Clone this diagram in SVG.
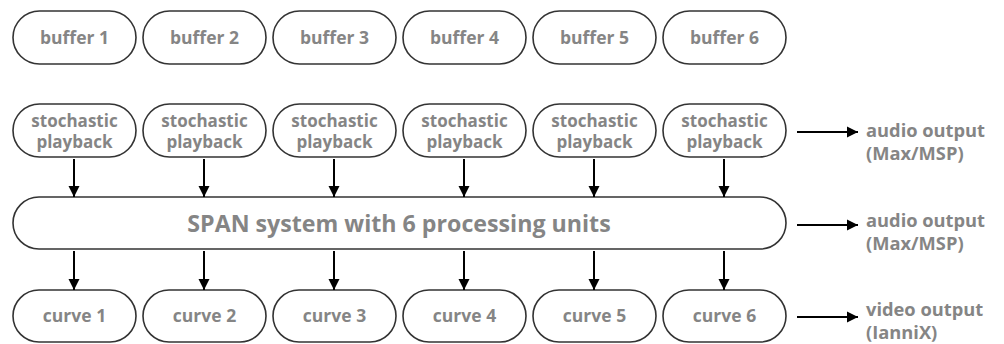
<svg xmlns="http://www.w3.org/2000/svg" width="1004" height="344" viewBox="0 0 1004 344">
<style>
.box{fill:#fff;stroke:#333;stroke-width:1.6}
.t{font-family:"Open Sans",Lato,sans-serif;font-weight:bold;fill:#858585;font-size:17.5px;text-anchor:middle}
.s{font-size:17px}
.big{font-size:23.2px}
.lbl{font-family:"Open Sans",Lato,sans-serif;font-weight:bold;fill:#858585;font-size:18.3px}
.c{stroke:#000;stroke-width:2;fill:none}
</style>
<defs>
<marker id="ah" markerWidth="12" markerHeight="12" refX="11" refY="6" orient="auto" markerUnits="userSpaceOnUse">
<path d="M0,0.5 L11,6 L0,11.5 Z" fill="#000"/>
</marker>
</defs>
<rect width="1004" height="344" fill="#fff"/>
<g id="buffer1"><rect class="box" x="13" y="11" width="123" height="53" rx="26.5"/><text class="t" x="74.5" y="44">buffer 1</text></g>
<g id="buffer2"><rect class="box" x="143" y="11" width="123" height="53" rx="26.5"/><text class="t" x="204.5" y="44">buffer 2</text></g>
<g id="buffer3"><rect class="box" x="273" y="11" width="123" height="53" rx="26.5"/><text class="t" x="334.5" y="44">buffer 3</text></g>
<g id="buffer4"><rect class="box" x="403" y="11" width="123" height="53" rx="26.5"/><text class="t" x="464.5" y="44">buffer 4</text></g>
<g id="buffer5"><rect class="box" x="533" y="11" width="123" height="53" rx="26.5"/><text class="t" x="594.5" y="44">buffer 5</text></g>
<g id="buffer6"><rect class="box" x="663" y="11" width="123" height="53" rx="26.5"/><text class="t" x="724.5" y="44">buffer 6</text></g>

<g id="stoch1"><rect class="box" x="13" y="104" width="123" height="53" rx="26.5"/><text class="t s" x="74.5" y="127">stochastic</text><text class="t s" x="74.5" y="148">playback</text></g>
<g id="stoch2"><rect class="box" x="143" y="104" width="123" height="53" rx="26.5"/><text class="t s" x="204.5" y="127">stochastic</text><text class="t s" x="204.5" y="148">playback</text></g>
<g id="stoch3"><rect class="box" x="273" y="104" width="123" height="53" rx="26.5"/><text class="t s" x="334.5" y="127">stochastic</text><text class="t s" x="334.5" y="148">playback</text></g>
<g id="stoch4"><rect class="box" x="403" y="104" width="123" height="53" rx="26.5"/><text class="t s" x="464.5" y="127">stochastic</text><text class="t s" x="464.5" y="148">playback</text></g>
<g id="stoch5"><rect class="box" x="533" y="104" width="123" height="53" rx="26.5"/><text class="t s" x="594.5" y="127">stochastic</text><text class="t s" x="594.5" y="148">playback</text></g>
<g id="stoch6"><rect class="box" x="663" y="104" width="123" height="53" rx="26.5"/><text class="t s" x="724.5" y="127">stochastic</text><text class="t s" x="724.5" y="148">playback</text></g>

<g id="span"><rect class="box" x="13" y="197" width="773" height="52" rx="26"/><text class="t big" x="399" y="231.5">SPAN system with 6 processing units</text></g>

<g id="curve1"><rect class="box" x="13" y="290" width="123" height="52" rx="26"/><text class="t" x="74.5" y="321.5">curve 1</text></g>
<g id="curve2"><rect class="box" x="143" y="290" width="123" height="52" rx="26"/><text class="t" x="204.5" y="321.5">curve 2</text></g>
<g id="curve3"><rect class="box" x="273" y="290" width="123" height="52" rx="26"/><text class="t" x="334.5" y="321.5">curve 3</text></g>
<g id="curve4"><rect class="box" x="403" y="290" width="123" height="52" rx="26"/><text class="t" x="464.5" y="321.5">curve 4</text></g>
<g id="curve5"><rect class="box" x="533" y="290" width="123" height="52" rx="26"/><text class="t" x="594.5" y="321.5">curve 5</text></g>
<g id="curve6"><rect class="box" x="663" y="290" width="123" height="52" rx="26"/><text class="t" x="724.5" y="321.5">curve 6</text></g>

<g id="out1"><text class="lbl" x="866" y="136.5">audio output</text><text class="lbl" x="866" y="159.5">(Max/MSP)</text></g>
<g id="out2"><text class="lbl" x="866" y="226.5">audio output</text><text class="lbl" x="866" y="249.5">(Max/MSP)</text></g>
<g id="out3"><text class="lbl" x="866" y="316">video output</text><text class="lbl" x="866" y="339">(IanniX)</text></g>

<g id="connectors">
<line class="c" x1="74" y1="159" x2="74" y2="197" marker-end="url(#ah)"/>
<line class="c" x1="204" y1="159" x2="204" y2="197" marker-end="url(#ah)"/>
<line class="c" x1="334" y1="159" x2="334" y2="197" marker-end="url(#ah)"/>
<line class="c" x1="464" y1="159" x2="464" y2="197" marker-end="url(#ah)"/>
<line class="c" x1="594" y1="159" x2="594" y2="197" marker-end="url(#ah)"/>
<line class="c" x1="724" y1="159" x2="724" y2="197" marker-end="url(#ah)"/>
<line class="c" x1="74" y1="251" x2="74" y2="290" marker-end="url(#ah)"/>
<line class="c" x1="204" y1="251" x2="204" y2="290" marker-end="url(#ah)"/>
<line class="c" x1="334" y1="251" x2="334" y2="290" marker-end="url(#ah)"/>
<line class="c" x1="464" y1="251" x2="464" y2="290" marker-end="url(#ah)"/>
<line class="c" x1="594" y1="251" x2="594" y2="290" marker-end="url(#ah)"/>
<line class="c" x1="724" y1="251" x2="724" y2="290" marker-end="url(#ah)"/>
<line class="c" x1="797" y1="132" x2="858" y2="132" marker-end="url(#ah)"/>
<line class="c" x1="797" y1="225" x2="858" y2="225" marker-end="url(#ah)"/>
<line class="c" x1="797" y1="317" x2="858" y2="317" marker-end="url(#ah)"/>
</g>
</svg>
